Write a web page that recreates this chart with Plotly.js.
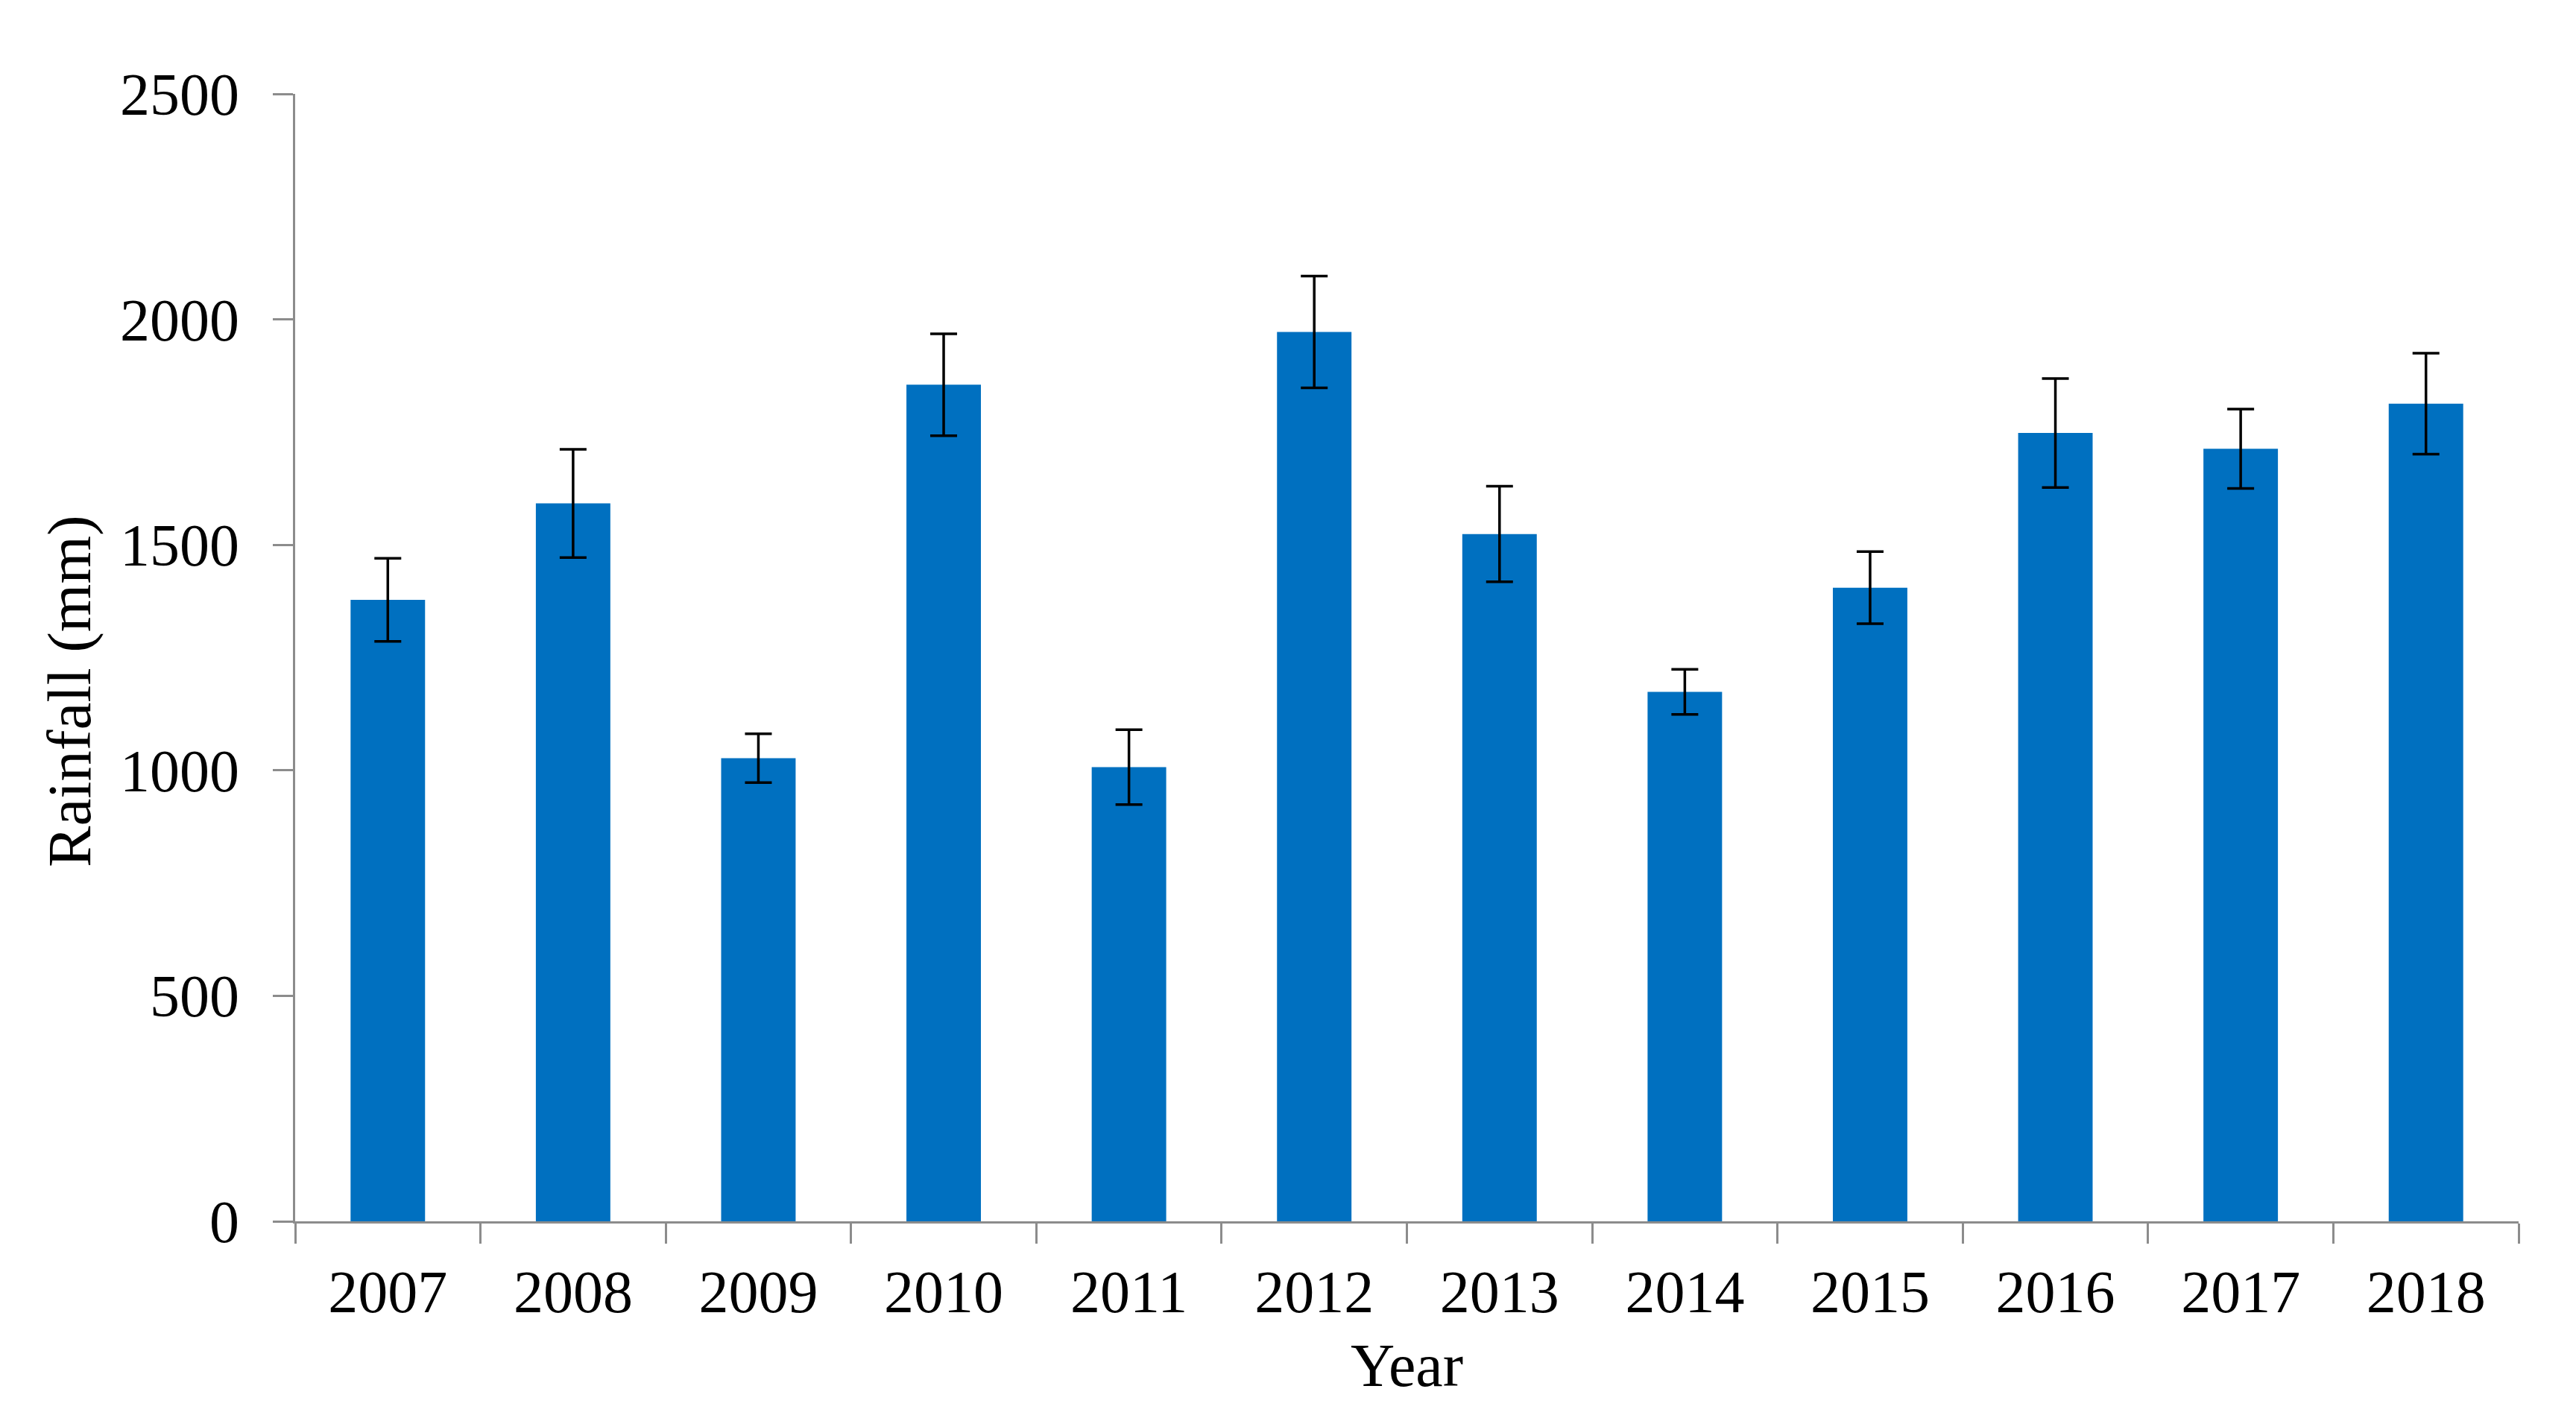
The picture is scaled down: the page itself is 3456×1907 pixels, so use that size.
<!DOCTYPE html>
<html>
<head>
<meta charset="utf-8">
<script src="https://cdn.plot.ly/plotly-3.0.1.min.js"></script>
<style>
  html, body { margin: 0; padding: 0; background: #ffffff; }
  #chart { width: 3456px; height: 1907px; }
</style>
</head>
<body>
<div id="chart"></div>
<script>
const years = ["2007", "2008", "2009", "2010", "2011", "2012", "2013", "2014", "2015", "2016", "2017", "2018"];
const rainfall = [1378, 1592, 1027, 1855, 1007, 1972, 1524, 1174, 1405, 1748, 1713, 1813];
const rainfallErr = [92, 120, 54, 113, 83, 124, 106, 50, 80, 121, 88, 112];
const yTicks = [0, 500, 1000, 1500, 2000, 2500];

const fontFamily = '"Liberation Serif", "Times New Roman", Times, serif';
const axisGrey = '#8c8c8c';

const trace = {
  type: 'bar',
  x: years,
  y: rainfall,
  marker: { color: '#0070C0' },
  error_y: {
    type: 'data',
    array: rainfallErr,
    visible: true,
    color: '#000000',
    thickness: 3.5,
    width: 18
  },
  hoverinfo: 'x+y'
};

const layout = {
  width: 3456,
  height: 1907,
  paper_bgcolor: '#ffffff',
  plot_bgcolor: '#ffffff',
  margin: { l: 396, r: 77, t: 126, b: 268, pad: 0 },
  bargap: 0.598,
  showlegend: false,
  font: { family: fontFamily, color: '#000000', size: 80 },
  xaxis: {
    type: 'category',
    showline: true,
    linecolor: axisGrey,
    linewidth: 3,
    ticks: 'outside',
    tickson: 'boundaries',
    ticklen: 27,
    tickwidth: 3,
    tickcolor: axisGrey,
    showgrid: false,
    zeroline: false,
    tickfont: { family: fontFamily, size: 80, color: '#000000' },
    ticklabelstandoff: 23,
    title: { text: 'Year', font: { family: fontFamily, size: 82, color: '#000000' }, standoff: 26 }
  },
  yaxis: {
    range: [0, 2500],
    tickvals: yTicks,
    ticktext: yTicks.map(String),
    showline: true,
    linecolor: axisGrey,
    linewidth: 3,
    ticks: 'outside',
    ticklen: 27,
    tickwidth: 3,
    tickcolor: axisGrey,
    showgrid: false,
    zeroline: false,
    tickfont: { family: fontFamily, size: 80, color: '#000000' },
    ticklabelstandoff: 29
  },
  annotations: [{
    text: 'Rainfall (mm)',
    xref: 'paper', yref: 'paper',
    x: -0.1016, y: 0.4706,
    xanchor: 'center', yanchor: 'middle',
    textangle: -90,
    showarrow: false,
    font: { family: fontFamily, size: 83, color: '#000000' }
  }]
};

Plotly.newPlot('chart', [trace], layout, { displayModeBar: false, staticPlot: true });
</script>
</body>
</html>
